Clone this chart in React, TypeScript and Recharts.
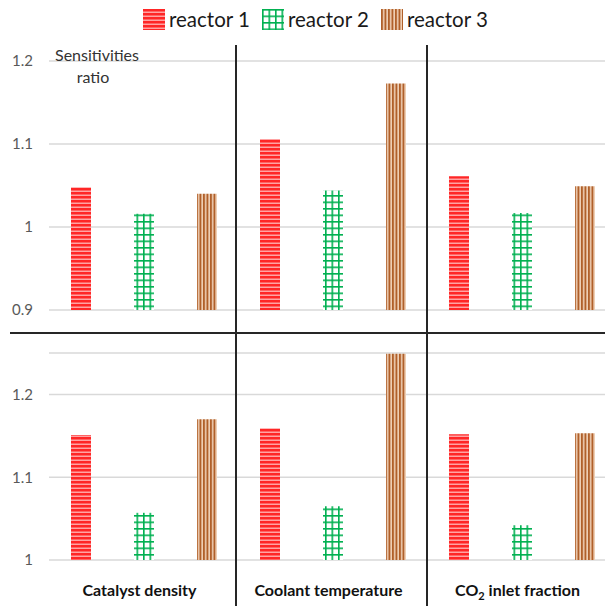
import { BarChart, Bar, XAxis, YAxis, CartesianGrid } from 'recharts';

const panels = ['Catalyst density', 'Coolant temperature', 'CO2 inlet fraction'];
const seriesNames = ['reactor 1', 'reactor 2', 'reactor 3'];

// upper row (axis 0.9 - 1.2)
const upperReactor1 = [1.048, 1.106, 1.061];
const upperReactor2 = [1.016, 1.044, 1.017];
const upperReactor3 = [1.04, 1.173, 1.049];

// lower row (axis 1 - 1.25)
const lowerReactor1 = [1.151, 1.159, 1.152];
const lowerReactor2 = [1.057, 1.065, 1.042];
const lowerReactor3 = [1.17, 1.249, 1.153];

const upperTicks = [0.9, 1, 1.1, 1.2];
const lowerTicks = [1, 1.1, 1.2];

const fills = ['url(#hatchRed)', 'url(#gridGreen)', 'url(#stripeBrown)'];

const build = (r1: number[], r2: number[], r3: number[]) =>
  panels.map((panel, i) => ({ panel, r1: r1[i], r2: r2[i], r3: r3[i] }));

const upperData = build(upperReactor1, upperReactor2, upperReactor3);
const lowerData = build(lowerReactor1, lowerReactor2, lowerReactor3);

const FONT = 'Lato, "Open Sans", sans-serif';
const tickStyle = { fontSize: 15, fill: '#595959', fontFamily: FONT };

function PanelTick(props: any) {
  const { x, y, payload } = props;
  const label: string = payload.value;
  const isCO2 = label.startsWith('CO2');
  return (
    <text x={x - 4} y={y + 28} textAnchor="middle" fontFamily={FONT} fontWeight={700} fontSize={16} fill="#111">
      {isCO2 ? (
        <>
          <tspan>CO</tspan>
          <tspan fontSize={11} dy={4}>2</tspan>
          <tspan dy={-4}>{label.slice(3)}</tspan>
        </>
      ) : (
        label
      )}
    </text>
  );
}

function Patterns() {
  return (
    <svg width={0} height={0} style={{ position: 'absolute' }}>
      <defs>
        <pattern id="hatchRed" width={4} height={4} patternUnits="userSpaceOnUse">
          <rect width={4} height={4} fill="#ffa3a3" />
          <rect width={4} height={2.5} fill="#ff2626" />
        </pattern>
        <pattern id="gridGreen" width={6.5} height={6.5} patternUnits="userSpaceOnUse">
          <rect width={6.5} height={6.5} fill="#ffffff" />
          <rect width={6.5} height={1.6} fill="#00b050" />
          <rect width={1.6} height={6.5} fill="#00b050" />
        </pattern>
        <pattern id="stripeBrown" width={3.5} height={4} patternUnits="userSpaceOnUse">
          <rect width={3.5} height={4} fill="#efd0b6" />
          <rect width={1.9} height={4} fill="#b0602a" />
        </pattern>
      </defs>
    </svg>
  );
}

function Legend() {
  return (
    <div
      style={{
        position: 'absolute',
        top: 8,
        left: 143,
        display: 'flex',
        alignItems: 'center',
        fontFamily: FONT,
        fontSize: 20.5,
        color: '#1a1a1a',
        lineHeight: '22px',
      }}
    >
      {seriesNames.map((name, i) => (
        <div key={name} style={{ display: 'flex', alignItems: 'center', marginRight: 12 }}>
          <svg width={22} height={21} style={{ marginRight: 4 }}>
            <rect width={22} height={21} fill={fills[i]} />
          </svg>
          <span>{name}</span>
        </div>
      ))}
    </div>
  );
}

function Row({ data, domain, ticks, height, margin, showLabels }: any) {
  return (
    <BarChart width={616} height={height} data={data} margin={margin} barSize={20} barGap={43}>
      <CartesianGrid vertical={false} stroke="#d9d9d9" strokeWidth={1.5} />
      <XAxis
        dataKey="panel"
        hide={!showLabels}
        height={46}
        axisLine={false}
        tickLine={false}
        tick={<PanelTick />}
        interval={0}
      />
      <YAxis
        type="number"
        domain={domain}
        ticks={ticks}
        width={49}
        axisLine={false}
        tickLine={false}
        tickMargin={10}
        tick={tickStyle}
      />
      <Bar dataKey="r1" name={seriesNames[0]} fill={fills[0]} isAnimationActive={false} />
      <Bar dataKey="r2" name={seriesNames[1]} fill={fills[1]} isAnimationActive={false} />
      <Bar dataKey="r3" name={seriesNames[2]} fill={fills[2]} isAnimationActive={false} />
    </BarChart>
  );
}

export default function App() {
  return (
    <div
      style={{
        position: 'absolute',
        left: 0,
        top: 0,
        width: 605,
        height: 606,
        overflow: 'hidden',
        background: '#fff',
        fontFamily: FONT,
      }}
    >
      <Patterns />
      <Legend />
      <div style={{ position: 'absolute', left: 0, top: 0 }}>
        <Row
          data={upperData}
          domain={[0.9, 1.2]}
          ticks={upperTicks}
          height={333}
          margin={{ top: 61, right: 0, bottom: 23, left: 0 }}
          showLabels={false}
        />
      </div>
      <div style={{ position: 'absolute', left: 0, top: 333 }}>
        <Row
          data={lowerData}
          domain={[1, 1.25]}
          ticks={lowerTicks}
          height={273}
          margin={{ top: 20, right: 0, bottom: 0, left: 0 }}
          showLabels={true}
        />
      </div>
      <svg width={605} height={606} style={{ position: 'absolute', left: 0, top: 0, pointerEvents: 'none' }}>
        <line x1={10} y1={333} x2={605} y2={333} stroke="#262626" strokeWidth={2} />
        <line x1={236} y1={45} x2={236} y2={606} stroke="#262626" strokeWidth={2} />
        <line x1={427} y1={45} x2={427} y2={606} stroke="#262626" strokeWidth={2} />
        <text x={97} y={61} textAnchor="middle" fontFamily={FONT} fontSize={16} fill="#333">
          Sensitivities
        </text>
        <text x={93} y={83} textAnchor="middle" fontFamily={FONT} fontSize={16} fill="#333">
          ratio
        </text>
      </svg>
    </div>
  );
}
